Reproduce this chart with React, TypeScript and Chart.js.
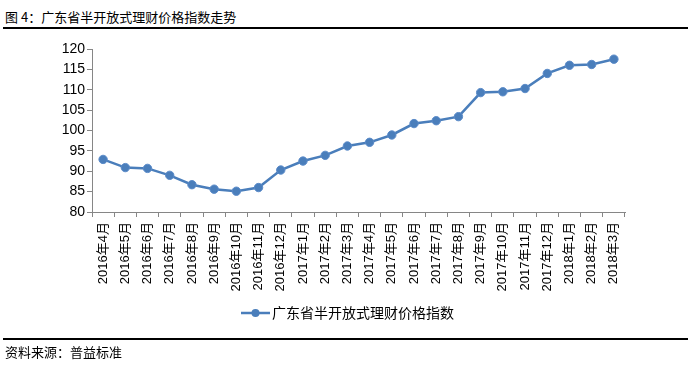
import React, { useEffect, useRef } from "react";
import { Chart, registerables } from "chart.js";

Chart.register(...registerables);

const categories = [
  "2016年4月", "2016年5月", "2016年6月", "2016年7月", "2016年8月", "2016年9月",
  "2016年10月", "2016年11月", "2016年12月", "2017年1月", "2017年2月", "2017年3月",
  "2017年4月", "2017年5月", "2017年6月", "2017年7月", "2017年8月", "2017年9月",
  "2017年10月", "2017年11月", "2017年12月", "2018年1月", "2018年2月", "2018年3月",
];
const values = [
  92.9, 90.9, 90.7, 89.0, 86.7, 85.6, 85.1, 86.0, 90.3, 92.5, 93.9, 96.2,
  97.1, 98.9, 101.7, 102.4, 103.4, 109.3, 109.5, 110.3, 114.0, 116.0, 116.2, 117.5,
];
const yMin = 80;
const yMax = 120;
const yStep = 5;
const seriesName = "广东省半开放式理财价格指数";
const titleText = "图 4：广东省半开放式理财价格指数走势";
const sourceText = "资料来源：普益标准";

const BLUE = "#4A7EBB";
const AXIS = "#868686";
const FONT = "'Liberation Sans', 'Noto Sans CJK SC', sans-serif";
const CJK = "'Noto Sans CJK SC', 'Liberation Sans', sans-serif";

const legendPlugin = {
  id: "customLegend",
  afterDraw(chart: any) {
    const ctx = chart.ctx;
    const y = 313;
    ctx.save();
    ctx.strokeStyle = BLUE;
    ctx.lineWidth = 2.5;
    ctx.beginPath();
    ctx.moveTo(241, y);
    ctx.lineTo(270, y);
    ctx.stroke();
    ctx.fillStyle = BLUE;
    ctx.beginPath();
    ctx.arc(255.5, y, 4, 0, Math.PI * 2);
    ctx.fill();
    ctx.fillStyle = "#000";
    ctx.font = "14px " + CJK;
    ctx.textBaseline = "middle";
    ctx.textAlign = "left";
    ctx.fillText(seriesName, 272, y);
    ctx.restore();
  },
};

export default function App() {
  const ref = useRef<HTMLCanvasElement | null>(null);

  useEffect(() => {
    document.body.style.margin = "0";
    const canvas = ref.current;
    if (!canvas) return;
    const chart = new Chart(canvas, {
      type: "line",
      data: {
        labels: categories,
        datasets: [
          {
            label: seriesName,
            data: values,
            borderColor: BLUE,
            backgroundColor: BLUE,
            borderWidth: 2.5,
            pointRadius: 4.2,
            pointBorderWidth: 1,
            pointBorderColor: "#5B8BC9",
            pointBackgroundColor: BLUE,
            tension: 0,
          },
        ],
      },
      options: {
        responsive: false,
        animation: false,
        layout: { padding: { left: 0, right: 66, top: 49, bottom: 74 } },
        plugins: {
          legend: { display: false },
          title: { display: false },
          tooltip: { enabled: false },
        },
        scales: {
          x: {
            type: "category",
            offset: true,
            afterFit(scale: any) {
              scale.height = 80;
            },
            grid: {
              display: true,
              drawOnChartArea: false,
              drawTicks: true,
              tickLength: 5,
              color: AXIS,
              offset: true,
            },
            border: { display: true, color: AXIS, width: 1 },
            ticks: {
              autoSkip: false,
              minRotation: 90,
              maxRotation: 90,
              padding: 5,
              color: "#000",
              font: { size: 13, family: FONT },
            },
          },
          y: {
            min: yMin,
            max: yMax,
            afterFit(scale: any) {
              scale.width = 92;
            },
            grid: {
              display: true,
              drawOnChartArea: false,
              drawTicks: true,
              tickLength: 5,
              color: AXIS,
            },
            border: { display: true, color: AXIS, width: 1 },
            ticks: {
              stepSize: yStep,
              padding: 2,
              color: "#000",
              font: { size: 14, family: FONT },
            },
          },
        },
      },
      plugins: [legendPlugin],
    });
    return () => chart.destroy();
  }, []);

  return (
    <div style={{ position: "fixed", left: 0, top: 0, width: 691, height: 366, background: "#fff" }}>
      <div
        style={{
          position: "absolute",
          left: 5,
          top: 8,
          fontFamily: CJK,
          fontSize: 13,
          lineHeight: "18px",
          color: "#000",
          whiteSpace: "nowrap",
        }}
      >
        {titleText}
      </div>
      <div style={{ position: "absolute", left: 3, top: 27, width: 685, height: 2, background: "#000" }} />
      <canvas
        ref={ref}
        width={691}
        height={366}
        style={{ position: "absolute", left: 0, top: 0, width: 691, height: 366 }}
      />
      <div style={{ position: "absolute", left: 3, top: 338, width: 685, height: 2, background: "#000" }} />
      <div
        style={{
          position: "absolute",
          left: 5,
          top: 343,
          fontFamily: CJK,
          fontSize: 13,
          lineHeight: "18px",
          color: "#000",
          whiteSpace: "nowrap",
        }}
      >
        {sourceText}
      </div>
    </div>
  );
}
